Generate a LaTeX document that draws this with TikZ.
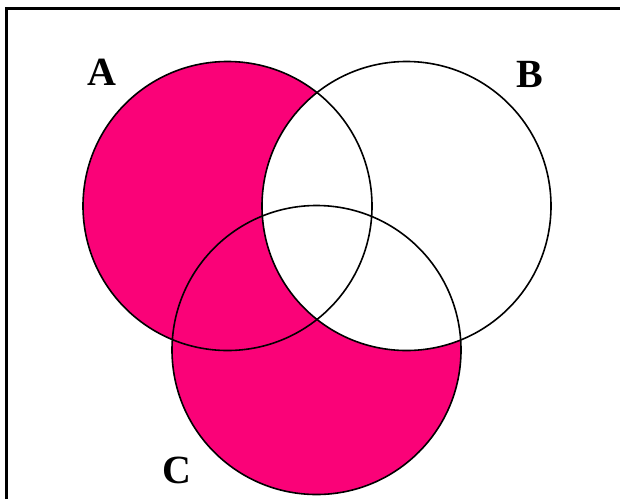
\documentclass[tikz,border=0pt]{standalone}
\usepackage{fontspec}
\setmainfont{Liberation Serif}
\definecolor{venn}{RGB}{250,2,120}
\begin{document}
\begin{tikzpicture}[x=1pt,y=-1pt,
  setcircle/.style={draw=black,line width=1.6pt},
  setlabel/.style={font=\fontsize{40}{44}\selectfont\bfseries,inner sep=0pt}]
\useasboundingbox (0,0) rectangle (620,499);
\fill[white] (0,0) rectangle (620,499);
% shaded region (A or C) minus B
\fill[venn] (227.5,206) circle (144.5);
\fill[venn] (316.5,350) circle (144.5);
\fill[white] (406.5,206) circle (144.5);
\draw[setcircle] (227.5,206) circle (144.5);
\draw[setcircle] (406.5,206) circle (144.5);
\draw[setcircle] (316.5,350) circle (144.5);
\node[setlabel] (la) at (102,72) {A};
\node[setlabel] (lb) at (530,74) {B};
\node[setlabel] (lc) at (177,470) {C};
% frame (top and left edges)
\draw[line width=3.5pt] (6.5,499) -- (6.5,8.5) -- (620,8.5);
\end{tikzpicture}
\end{document}
